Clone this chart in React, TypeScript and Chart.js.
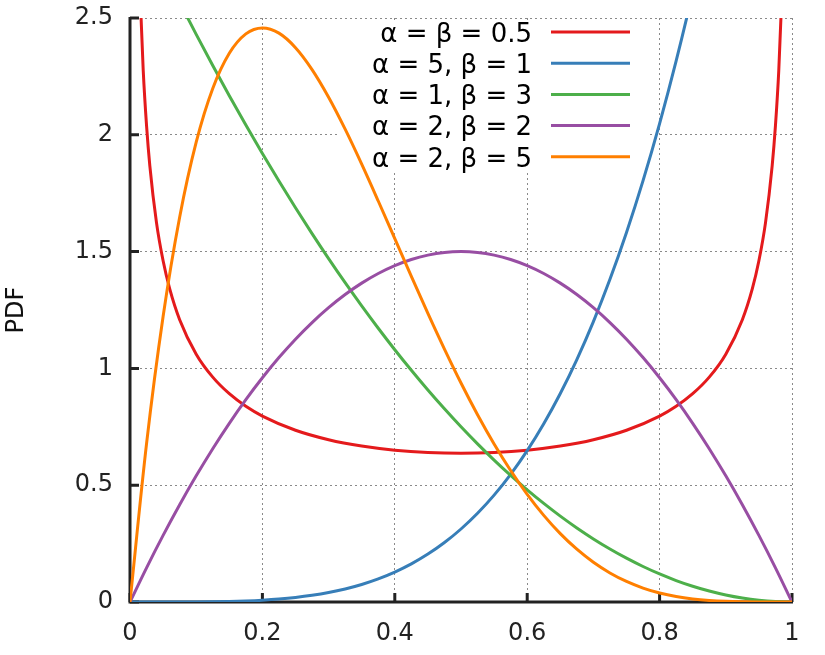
import React, { useEffect, useRef } from 'react';
import { Chart, registerables } from 'chart.js';

Chart.register(...registerables);

// ---- Data ----
const xGrid = [
  0, 0.025, 0.05, 0.075, 0.1, 0.125, 0.15, 0.175, 0.2, 0.225, 0.25, 0.275, 0.3, 0.325, 0.35, 0.375, 0.4,
  0.425, 0.45, 0.475, 0.5, 0.525, 0.55, 0.575, 0.6, 0.625, 0.65, 0.675, 0.7, 0.725, 0.75, 0.775, 0.8,
  0.825, 0.85, 0.875, 0.9, 0.925, 0.95, 0.975, 1,
];

// alpha = beta = 0.5 (own x positions, dense near the edges)
const redX = [
  0.003, 0.005, 0.0075, 0.01, 0.0125, 0.015, 0.02, 0.025, 0.03, 0.04, 0.05, 0.06, 0.075, 0.1, 0.125, 0.15,
  0.175, 0.2, 0.25, 0.3, 0.35, 0.4, 0.45, 0.5, 0.55, 0.6, 0.65, 0.7, 0.75, 0.8, 0.825, 0.85, 0.875, 0.9,
  0.925, 0.94, 0.95, 0.96, 0.97, 0.975, 0.98, 0.985, 0.9875, 0.99, 0.9925, 0.995, 0.997,
];
const redY = [
  5.82, 4.513, 3.689, 3.199, 2.865, 2.619, 2.274, 2.039, 1.866, 1.624, 1.4605, 1.3403, 1.2085, 1.061, 0.9625,
  0.8915, 0.8377, 0.7958, 0.7351, 0.6946, 0.6674, 0.6497, 0.6398, 0.6366, 0.6398, 0.6497, 0.6674, 0.6946,
  0.7351, 0.7958, 0.8377, 0.8915, 0.9625, 1.061, 1.2085, 1.3403, 1.4605, 1.624, 1.866, 2.039, 2.274, 2.619,
  2.865, 3.199, 3.689, 4.513, 5.82,
];

// alpha = 5, beta = 1
const blueY = [
  0, 0.000002, 0.00003, 0.00016, 0.0005, 0.0012, 0.0025, 0.0047, 0.008, 0.0128, 0.0195, 0.0286, 0.0405,
  0.0558, 0.075, 0.0989, 0.128, 0.1631, 0.205, 0.2545, 0.3125, 0.3798, 0.4575, 0.5466, 0.648, 0.7629,
  0.8925, 1.038, 1.2005, 1.3814, 1.582, 1.8038, 2.048, 2.3162, 2.61, 2.9309, 3.2805, 3.6605, 4.0725,
  4.5184, 5,
];

// alpha = 1, beta = 3
const greenY = [
  3, 2.8519, 2.7075, 2.5669, 2.43, 2.2969, 2.1675, 2.0419, 1.92, 1.8019, 1.6875, 1.5769, 1.47, 1.3669,
  1.2675, 1.1719, 1.08, 0.9919, 0.9075, 0.8269, 0.75, 0.6769, 0.6075, 0.5419, 0.48, 0.4219, 0.3675,
  0.3169, 0.27, 0.2269, 0.1875, 0.1519, 0.12, 0.0919, 0.0675, 0.0469, 0.03, 0.0169, 0.0075, 0.0019, 0,
];

// alpha = 2, beta = 2
const purpleY = [
  0, 0.1463, 0.285, 0.4163, 0.54, 0.6563, 0.765, 0.8663, 0.96, 1.0463, 1.125, 1.1963, 1.26, 1.3163,
  1.365, 1.4063, 1.44, 1.4663, 1.485, 1.4963, 1.5, 1.4963, 1.485, 1.4663, 1.44, 1.4063, 1.365, 1.3163,
  1.26, 1.1963, 1.125, 1.0463, 0.96, 0.8663, 0.765, 0.6563, 0.54, 0.4163, 0.285, 0.1463, 0,
];

// alpha = 2, beta = 5
const orangeY = [
  0, 0.6778, 1.2218, 1.6472, 1.9683, 2.1982, 2.349, 2.4321, 2.4576, 2.4351, 2.373, 2.2793, 2.1609,
  2.024, 1.8743, 1.7166, 1.5552, 1.3937, 1.2353, 1.0826, 0.9375, 0.8018, 0.6766, 0.5628, 0.4608,
  0.3708, 0.2926, 0.2259, 0.1701, 0.1244, 0.0879, 0.0596, 0.0384, 0.0232, 0.0129, 0.0064, 0.0027,
  0.0009, 0.0002, 0, 0,
];

const seriesLabels = [
  'α = β = 0.5',
  'α = 5, β = 1',
  'α = 1, β = 3',
  'α = 2, β = 2',
  'α = 2, β = 5',
];
const seriesColors = ['#e41a1c', '#377eb8', '#4daf4a', '#984ea3', '#ff7f00'];

const xTicks = [0, 0.2, 0.4, 0.6, 0.8, 1];
const yTicks = [0, 0.5, 1, 1.5, 2, 2.5];
const yAxisTitle = 'PDF';

const FONT = '"DejaVu Sans", Verdana, sans-serif';

function pts(xs: number[], ys: number[]) {
  return xs.map((x, i) => ({ x, y: ys[i] }));
}

const framePlugin = {
  id: 'gnuFrame',
  beforeDatasetsDraw(chart: any) {
    const { ctx, chartArea: a, scales } = chart;
    ctx.save();
    // opaque legend box (hides the grid under the key)
    ctx.fillStyle = '#ffffff';
    ctx.fillRect(a.left + 207, a.top + 2, 310, 150);
    // axes
    ctx.strokeStyle = '#222222';
    ctx.lineWidth = 3;
    ctx.lineCap = 'butt';
    ctx.lineJoin = 'miter';
    ctx.beginPath();
    ctx.moveTo(a.left, a.top - 1);
    ctx.lineTo(a.left, a.bottom);
    ctx.lineTo(a.right + 1, a.bottom);
    ctx.stroke();
    // inward tick marks
    ctx.beginPath();
    for (const v of yTicks) {
      const y = scales.y.getPixelForValue(v);
      ctx.moveTo(a.left, y);
      ctx.lineTo(a.left + 9, y);
    }
    for (const v of xTicks) {
      const x = scales.x.getPixelForValue(v);
      ctx.moveTo(x, a.bottom);
      ctx.lineTo(x, a.bottom - 9);
    }
    ctx.stroke();
    ctx.restore();
  },
  afterDatasetsDraw(chart: any) {
    const { ctx, chartArea: a } = chart;
    ctx.save();
    ctx.font = `26px ${FONT}`;
    ctx.textAlign = 'right';
    ctx.textBaseline = 'alphabetic';
    seriesLabels.forEach((label, i) => {
      const cy = a.top + 14 + i * 31.2;
      ctx.fillStyle = '#000000';
      ctx.fillText(label, a.left + 402, cy + 9.8);
      ctx.strokeStyle = seriesColors[i];
      ctx.lineWidth = 3;
      ctx.beginPath();
      ctx.moveTo(a.left + 421, cy);
      ctx.lineTo(a.left + 500, cy);
      ctx.stroke();
    });
    ctx.restore();
  },
};

export default function App() {
  const ref = useRef<HTMLCanvasElement | null>(null);

  useEffect(() => {
    document.body.style.margin = '0';
    const canvas = ref.current;
    if (!canvas) return;
    Chart.defaults.font.family = FONT;

    const seriesData = [
      pts(redX, redY),
      pts(xGrid, blueY),
      pts(xGrid, greenY),
      pts(xGrid, purpleY),
      pts(xGrid, orangeY),
    ];

    const chart = new Chart(canvas, {
      type: 'line',
      data: {
        datasets: seriesData.map((d, i) => ({
          label: seriesLabels[i],
          data: d,
          borderColor: seriesColors[i],
          backgroundColor: seriesColors[i],
          borderWidth: 3,
          pointRadius: 0,
          fill: false,
          cubicInterpolationMode: 'monotone' as const,
          order: seriesLabels.length - i,
          clip: 0,
        })),
      },
      options: {
        responsive: false,
        animation: false,
        events: [],
        layout: { padding: { top: 18, right: 33, left: 0, bottom: 0 } },
        plugins: {
          legend: { display: false },
          tooltip: { enabled: false },
        },
        scales: {
          x: {
            type: 'linear',
            min: 0,
            max: 1,
            afterBuildTicks: (s: any) => {
              s.ticks = xTicks.map((v) => ({ value: v }));
            },
            ticks: {
              color: '#222222',
              font: { size: 24, family: FONT },
              padding: 0,
              maxRotation: 0,
              callback: (v: any) => String(v),
            },
            grid: {
              drawTicks: true,
              tickLength: 17,
              tickColor: 'rgba(0,0,0,0)',
              color: '#8a8a8a',
              lineWidth: 1,
            },
            border: { display: false, dash: [2, 3] },
            afterFit: (s: any) => {
              s.height = 53;
            },
          },
          y: {
            type: 'linear',
            min: 0,
            max: 2.5,
            afterBuildTicks: (s: any) => {
              s.ticks = yTicks.map((v) => ({ value: v }));
            },
            ticks: {
              color: '#222222',
              font: { size: 24, family: FONT },
              padding: 0,
              callback: (v: any) => String(v),
            },
            grid: {
              drawTicks: true,
              tickLength: 17,
              tickColor: 'rgba(0,0,0,0)',
              color: '#8a8a8a',
              lineWidth: 1,
            },
            border: { display: false, dash: [2, 3] },
            title: {
              display: true,
              text: yAxisTitle,
              color: '#111111',
              font: { size: 24, family: FONT },
              padding: { top: 2, bottom: 0 },
            },
            afterFit: (s: any) => {
              s.width = 130;
            },
          },
        },
      },
      plugins: [framePlugin],
    });

    return () => {
      chart.destroy();
    };
  }, []);

  return (
    <div style={{ width: 825, height: 655 }}>
      <canvas ref={ref} width={825} height={655} style={{ display: 'block' }} />
    </div>
  );
}
